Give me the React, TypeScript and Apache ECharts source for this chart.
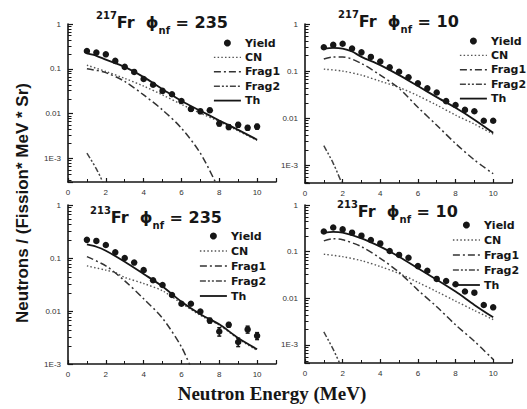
import React, { useEffect, useRef } from "react";
import * as echarts from "echarts";

// ---------- data ----------
const energies = [1, 1.5, 2, 2.5, 3, 3.5, 4, 4.5, 5, 5.5, 6, 6.5, 7, 7.5, 8, 8.5, 9, 9.5, 10];
const xTicks = [0, 2, 4, 6, 8, 10];

// Panel A: 217Fr phi=235
const yieldA = [0.25, 0.23, 0.21, 0.15, 0.11, 0.085, 0.059, 0.044, 0.032, 0.027, 0.019, 0.0126, 0.0112, 0.0118, 0.006, 0.005, 0.0056, 0.0048, 0.0051];
const errA = [0, 0, 0, 0, 0, 0, 0, 0, 0, 0, 0, 0.1, 0.1, 0.1, 0.12, 0.12, 0.12, 0.12, 0.12];
const thAx = [1, 1.5, 2, 3, 4, 5, 6, 7, 8, 9, 10];
const thAy = [0.22, 0.195, 0.16, 0.11, 0.065, 0.035, 0.019, 0.0115, 0.007, 0.0043, 0.0026];
const cnAx = [1, 2, 3, 4, 5, 6, 7, 8, 9, 10];
const cnAy = [0.12, 0.087, 0.061, 0.041, 0.026, 0.016, 0.0102, 0.0066, 0.0041, 0.0025];
const f1Ax = [1, 2, 3, 4, 5, 6, 7, 7.8];
const f1Ay = [0.1, 0.082, 0.052, 0.026, 0.012, 0.0047, 0.0013, 0.00029];
const f2Ax = [1, 1.5, 1.9];
const f2Ay = [0.0013, 0.00058, 0.00026];

// Panel B: 217Fr phi=10
const yieldB = [0.32, 0.36, 0.38, 0.3, 0.25, 0.2, 0.16, 0.12, 0.097, 0.074, 0.055, 0.043, 0.035, 0.023, 0.019, 0.015, 0.014, 0.0088, 0.0088];
const thBx = [1, 1.5, 2, 2.5, 3, 4, 5, 6, 7, 8, 9, 10];
const thBy = [0.3, 0.31, 0.3, 0.26, 0.2, 0.134, 0.082, 0.048, 0.028, 0.0166, 0.0093, 0.0049];
const cnBx = [1, 2, 3, 4, 5, 6, 7, 8, 9, 10];
const cnBy = [0.11, 0.1, 0.082, 0.061, 0.045, 0.03, 0.019, 0.0116, 0.0075, 0.0046];
const f1Bx = [1, 1.5, 2, 3, 4, 5, 6, 7, 8, 9, 10];
const f1By = [0.18, 0.2, 0.2, 0.145, 0.082, 0.043, 0.017, 0.0071, 0.0029, 0.0013, 0.00066];
const f2Bx = [1, 1.5, 1.95];
const f2By = [0.0026, 0.0011, 0.00042];

// Panel C: 213Fr phi=235
const yieldC = [0.22, 0.21, 0.176, 0.128, 0.1, 0.082, 0.059, 0.038, 0.031, 0.02, 0.0137, 0.0137, 0.0098, 0.0066, 0.0041, 0.0055, 0.0026, 0.0045, 0.0034];
const errC = [0, 0, 0, 0, 0, 0, 0, 0, 0, 0, 0, 0, 0, 0.1, 0.18, 0.1, 0.18, 0.15, 0.15];
const thCx = [1, 1.5, 2, 3, 4, 5, 6, 7, 8, 9, 10];
const thCy = [0.18, 0.163, 0.137, 0.085, 0.05, 0.029, 0.015, 0.0087, 0.0056, 0.0031, 0.0019];
const cnCx = [1, 2, 2.5, 3, 4, 5, 6, 7, 8, 9, 10];
const cnCy = [0.071, 0.059, 0.053, 0.043, 0.033, 0.024, 0.014, 0.0083, 0.0054, 0.003, 0.0018];
const f1Cx = [1, 2, 3, 4, 5, 6, 6.5];
const f1Cy = [0.106, 0.071, 0.037, 0.017, 0.0073, 0.0021, 0.00085];
const f2Cx = [1, 1.5];
const f2Cy = [0.0004, 0.0002];

// Panel D: 213Fr phi=10
const yieldD = [0.27, 0.33, 0.3, 0.255, 0.22, 0.178, 0.15, 0.103, 0.085, 0.074, 0.049, 0.039, 0.026, 0.0235, 0.02, 0.014, 0.0132, 0.0072, 0.0064];
const thDx = [1, 1.5, 2, 3, 4, 5, 6, 7, 8, 9, 10];
const thDy = [0.255, 0.265, 0.255, 0.193, 0.128, 0.078, 0.044, 0.025, 0.0139, 0.0072, 0.0039];
const cnDx = [1, 2, 3, 4, 5, 6, 7, 8, 9, 10];
const cnDy = [0.088, 0.078, 0.064, 0.048, 0.034, 0.022, 0.0139, 0.0087, 0.0055, 0.0035];
const f1Dx = [1, 1.5, 2, 3, 4, 5, 6, 7, 8, 9, 10];
const f1Dy = [0.17, 0.19, 0.18, 0.128, 0.072, 0.036, 0.015, 0.0066, 0.0027, 0.0012, 0.00049];
const f2Dx = [1, 1.5, 1.85];
const f2Dy = [0.0019, 0.0008, 0.0004];

const titles = [
  { mass: "217", phi: "235" },
  { mass: "217", phi: "10" },
  { mass: "213", phi: "235" },
  { mass: "213", phi: "10" },
];
const yMins = [2.95e-4, 4.2e-4, 1e-3, 4.1e-4];
const legendNames = ["Yield", "CN", "Frag1", "Frag2", "Th"];

// ---------- layout ----------
const grids = [
  { left: 68, top: 24, width: 208, height: 158 },
  { left: 305, top: 24, width: 207, height: 159 },
  { left: 68, top: 205, width: 208, height: 159 },
  { left: 305, top: 205, width: 207, height: 158 },
];
const legendPos = [
  { left: 213, top: 37.5, gap: 3.4 },
  { left: 459, top: 35.5, gap: 3.4 },
  { left: 199, top: 230.5, gap: 4 },
  { left: 452, top: 219.5, gap: 4 },
];
const titlePos = [
  { x: 96, y: 10 },
  { x: 338, y: 9 },
  { x: 90, y: 205 },
  { x: 337, y: 199 },
];

const FONT = "'Liberation Sans', Arial, Helvetica, sans-serif";
const WIDE = "'DejaVu Sans', Verdana, sans-serif";
const INK = "#161616";

const zip = (xs: number[], ys: number[]) => xs.map((x, i) => [x, ys[i]]);

const panels = [
  { y: yieldA, err: errA, th: zip(thAx, thAy), cn: zip(cnAx, cnAy), f1: zip(f1Ax, f1Ay), f2: zip(f2Ax, f2Ay) },
  { y: yieldB, err: null, th: zip(thBx, thBy), cn: zip(cnBx, cnBy), f1: zip(f1Bx, f1By), f2: zip(f2Bx, f2By) },
  { y: yieldC, err: errC, th: zip(thCx, thCy), cn: zip(cnCx, cnCy), f1: zip(f1Cx, f1Cy), f2: zip(f2Cx, f2Cy) },
  { y: yieldD, err: null, th: zip(thDx, thDy), cn: zip(cnDx, cnDy), f1: zip(f1Dx, f1Dy), f2: zip(f2Dx, f2Dy) },
];

const lineStyles: Record<string, any> = {
  CN: { color: "#555", width: 1.4, type: [1.5, 2.2] },
  Frag1: { color: "#333", width: 1.5, type: [7, 3, 2, 3] },
  Frag2: { color: "#444", width: 1.5, type: [6, 2, 2, 2, 2, 2] },
  Th: { color: INK, width: 1.8, type: "solid" },
};

const logLabel = (v: number) => {
  const near = (a: number) => Math.abs(v - a) / a < 1e-6;
  if (near(1)) return "1";
  if (near(0.1)) return "0.1";
  if (near(0.01)) return "0.01";
  if (near(0.001)) return "1E-3";
  return "";
};

function buildOption() {
  const series: any[] = [];
  panels.forEach((p, i) => {
    const axis = { xAxisIndex: i, yAxisIndex: i };
    series.push({
      name: "Yield", type: "scatter", ...axis, symbol: "circle", symbolSize: 6.5,
      itemStyle: { color: INK, opacity: 1 }, data: zip(energies, p.y), z: 5,
    });
    const lines: [string, number[][]][] = [["CN", p.cn], ["Frag1", p.f1], ["Frag2", p.f2], ["Th", p.th]];
    lines.forEach(([name, data]) => {
      series.push({
        name, type: "line", ...axis, symbol: "none", showSymbol: false, smooth: 0.3, data,
        itemStyle: { color: lineStyles[name].color },
        lineStyle: lineStyles[name],
      });
    });
    if (p.err) {
      const errData = energies
        .map((x, k) => [x, p.y[k] * (1 - p.err![k]), p.y[k] * (1 + p.err![k])])
        .filter((_, k) => p.err![k] > 0);
      series.push({
        name: "err", type: "custom", ...axis, data: errData, z: 6,
        encode: { x: 0, y: [1, 2] },
        renderItem: (_params: any, api: any) => {
          const x = api.value(0);
          const lo = api.coord([x, api.value(1)]);
          const hi = api.coord([x, api.value(2)]);
          return {
            type: "group",
            children: [
              { type: "line", shape: { x1: lo[0], y1: lo[1], x2: hi[0], y2: hi[1] }, style: { stroke: INK, lineWidth: 1.5 } },
              { type: "line", shape: { x1: lo[0] - 2, y1: lo[1], x2: lo[0] + 2, y2: lo[1] }, style: { stroke: INK, lineWidth: 1.5 } },
              { type: "line", shape: { x1: hi[0] - 2, y1: hi[1], x2: hi[0] + 2, y2: hi[1] }, style: { stroke: INK, lineWidth: 1.5 } },
            ],
          };
        },
      });
    }
  });

  const xAxis = grids.map((_, i) => ({
    type: "value", gridIndex: i, min: 0, max: 11, interval: 2,
    axisLine: { show: true, onZero: false, lineStyle: { color: INK, width: 1.6 } },
    axisTick: { show: true, inside: true, length: 4, lineStyle: { color: INK, width: 1.2 } },
    minorTick: { show: true, splitNumber: 2, length: 3, lineStyle: { color: INK, width: 1 } },
    axisLabel: {
      show: true, fontSize: 8, color: "#333", fontFamily: FONT, margin: 6,
      showMaxLabel: false,
      formatter: (v: number) => (xTicks.includes(v) ? String(v) : ""),
    },
    splitLine: { show: false },
  }));

  const yAxis = grids.map((_, i) => ({
    type: "log", gridIndex: i, logBase: 10, min: yMins[i], max: 1,
    axisLine: { show: true, onZero: false, lineStyle: { color: INK, width: 1.6 } },
    axisTick: { show: true, inside: true, length: 5, lineStyle: { color: INK, width: 1.2 } },
    minorTick: { show: true, splitNumber: 8, length: 3.5, lineStyle: { color: INK, width: 1 } },
    axisLabel: { show: true, fontSize: 8, color: "#333", fontFamily: FONT, margin: 7, formatter: logLabel },
    splitLine: { show: false },
  }));

  const legend = legendPos.map((lp) => ({
    show: true, orient: "vertical", left: lp.left, top: lp.top,
    data: legendNames.map((n) =>
      n === "Yield"
        ? { name: n, icon: "circle", itemStyle: { color: INK, opacity: 1 } }
        : { name: n, itemStyle: { opacity: 0, color: "transparent", borderWidth: 0 }, lineStyle: { ...lineStyles[n], opacity: 1 } }
    ),
    itemWidth: 27, itemHeight: 7, itemGap: lp.gap, padding: 0,
    selectedMode: false,
    textStyle: { fontSize: 11, fontWeight: "bold", color: INK, fontFamily: WIDE, padding: [0, 0, 0, -1] },
  }));

  const rich = {
    big: { fontSize: 16, fontWeight: "bold", fontFamily: WIDE, fill: INK, lineHeight: 25, verticalAlign: "middle" },
    phi: { fontSize: 16, fontWeight: "bold", fontFamily: WIDE, fill: INK, lineHeight: 25, verticalAlign: "middle" },
    sup: { fontSize: 10, fontWeight: "bold", fontFamily: WIDE, fill: INK, lineHeight: 10, verticalAlign: "top" },
    sub: { fontSize: 10, fontWeight: "bold", fontFamily: WIDE, fill: INK, lineHeight: 10, verticalAlign: "bottom" },
  };

  const graphic: any[] = titles.map((t, i) => ({
    type: "text", left: titlePos[i].x, top: titlePos[i].y,
    style: {
      text: `{sup|${t.mass}}{big|Fr}{big|  }{phi|\u03D5}{sub|nf}{big| = ${t.phi}}`,
      rich,
    },
  }));
  graphic.push({
    type: "text", x: 22, y: 203, rotation: Math.PI / 2,
    style: {
      text: "Neutrons / (Fission* MeV * Sr)", fontSize: 17, fontWeight: "bold", fontFamily: FONT,
      fill: INK, align: "center", verticalAlign: "middle",
    },
  });
  graphic.push({
    type: "text", x: 272, y: 393,
    style: {
      text: "Neutron Energy (MeV)", fontSize: 19, fontWeight: "bold",
      fontFamily: "'Liberation Serif', 'Times New Roman', serif",
      fill: INK, align: "center", verticalAlign: "middle",
    },
  });

  return {
    animation: false,
    backgroundColor: "#ffffff",
    grid: grids.map((g) => ({ ...g, containLabel: false })),
    xAxis, yAxis, legend, series, graphic,
  };
}

export default function App() {
  const ref = useRef<HTMLDivElement>(null);
  useEffect(() => {
    document.body.style.margin = "0";
    if (!ref.current) return;
    const chart = echarts.init(ref.current, null, { renderer: "svg" });
    chart.setOption(buildOption() as any);
    return () => chart.dispose();
  }, []);
  return <div ref={ref} style={{ width: 527, height: 409 }} />;
}
